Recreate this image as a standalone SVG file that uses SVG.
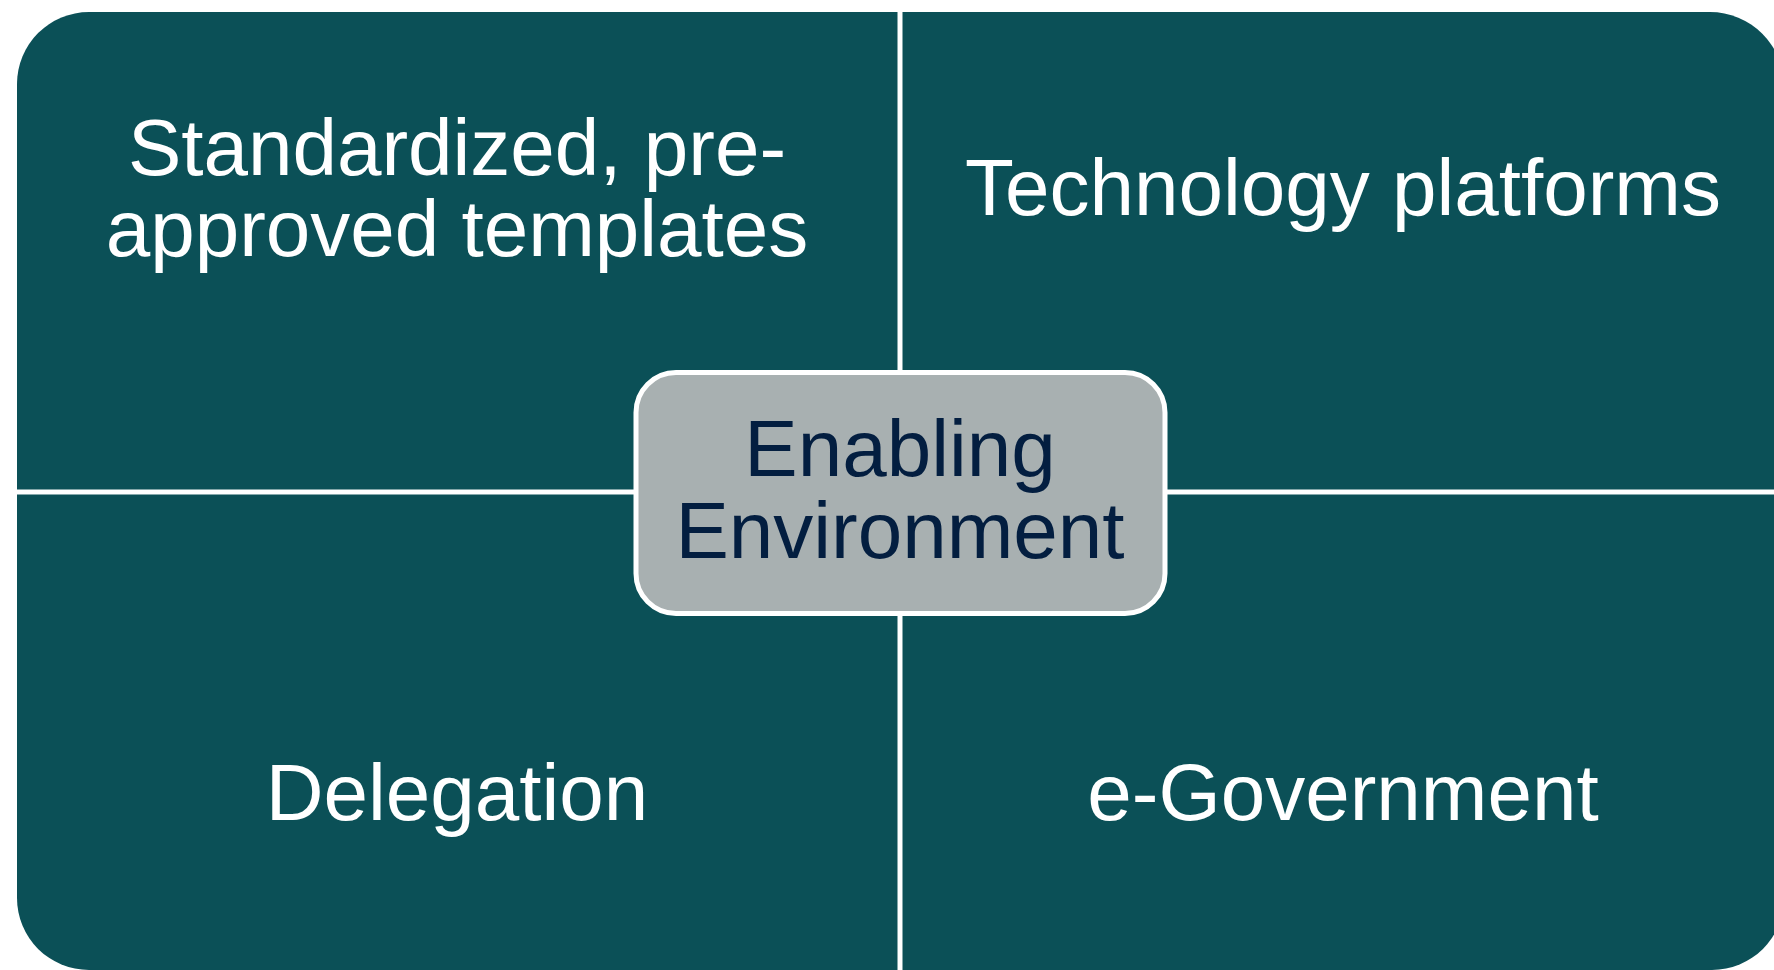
<svg xmlns="http://www.w3.org/2000/svg" width="1774" height="970" viewBox="0 0 1774 970">
  <style>
    .quad { fill: #0B5057; }
    .label { font-family: "Liberation Sans", Arial, sans-serif; font-size: 80px; fill: #FFFFFF; text-anchor: middle; }
    .hub { fill: #A8B0B1; stroke: #FFFFFF; stroke-width: 5; }
    .hub-label { font-family: "Liberation Sans", Arial, sans-serif; font-size: 80px; fill: #031E40; text-anchor: middle; }
  </style>
  <rect width="1774" height="970" fill="#FFFFFF"/>

  <!-- four quadrants of the matrix, rounded on their outer corners -->
  <g id="quad-templates">
    <path class="quad" d="M17,84 A72,72 0 0 1 89,12 L897.5,12 L897.5,489.5 L17,489.5 Z"/>
    <text class="label" x="457" y="175">Standardized, pre-</text>
    <text class="label" x="457" y="256">approved templates</text>
  </g>
  <g id="quad-technology">
    <path class="quad" d="M902.5,12 L1710,12 A74,74 0 0 1 1784,86 L1784,489.5 L902.5,489.5 Z"/>
    <text class="label" x="1343" y="215">Technology platforms</text>
  </g>
  <g id="quad-delegation">
    <path class="quad" d="M17,494.5 L897.5,494.5 L897.5,970 L89,970 A72,72 0 0 1 17,898 Z"/>
    <text class="label" x="457" y="820">Delegation</text>
  </g>
  <g id="quad-egov">
    <path class="quad" d="M902.5,494.5 L1784,494.5 L1784,898 A72,72 0 0 1 1712,970 L902.5,970 Z"/>
    <text class="label" x="1343" y="820">e-Government</text>
  </g>

  <!-- central hub -->
  <g id="hub">
    <rect class="hub" x="636" y="372.5" width="529" height="241" rx="40" ry="40"/>
    <text class="hub-label" x="900" y="476">Enabling</text>
    <text class="hub-label" x="900" y="558">Environment</text>
  </g>
</svg>
